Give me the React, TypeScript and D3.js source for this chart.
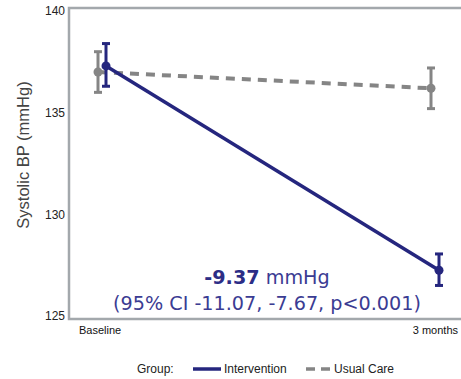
import React, { useEffect, useRef } from 'react';
import * as d3 from 'd3';

// time points
const timepoints = ['Baseline', '3 months'];
// group means and 95% CIs
const interventionMean = [137.3, 127.25];
const interventionLow = [136.3, 126.5];
const interventionHigh = [138.4, 128.05];
const usualMean = [137.0, 136.2];
const usualLow = [136.0, 135.2];
const usualHigh = [138.0, 137.2];
const yTicks = [125, 130, 135, 140];

const App = () => {
  const ref = useRef<SVGSVGElement>(null);

  useEffect(() => {
    const svg = d3.select(ref.current);
    svg.selectAll('*').remove();

    const width = 461;
    const left = 69;
    const top = 8;
    const bottom = 319;

    const x = d3.scalePoint().domain(timepoints).range([102, 435]);
    const y = d3.scaleLinear().domain([124.85, 140.15]).range([bottom, top]);

    const navy = '#25267e';
    const grey = '#858585';
    const frame = '#a3a8ac';

    // frame
    svg.append('path')
      .attr('d', `M${width + 5},${top}H${left}V${bottom}H${width + 5}`)
      .attr('fill', 'none')
      .attr('stroke', frame)
      .attr('stroke-width', 2.5);

    // y ticks
    const yAxis = svg.append('g');
    yTicks.forEach((t) => {
      yAxis.append('text')
        .attr('x', left - 4)
        .attr('y', y(t))
        .attr('dy', '0.35em')
        .attr('text-anchor', 'end')
        .attr('font-family', 'Liberation Sans, Arial, sans-serif')
        .attr('font-size', 12)
        .attr('fill', '#222')
        .text(t);
    });

    svg.append('text')
      .attr('transform', 'translate(29, 155) rotate(-90)')
      .attr('text-anchor', 'middle')
      .attr('font-family', 'Liberation Sans, Arial, sans-serif')
      .attr('font-size', 16.5)
      .attr('fill', '#444')
      .text('Systolic BP (mmHg)');

    // x labels
    svg.append('text')
      .attr('x', 79)
      .attr('y', 334)
      .attr('font-family', 'Liberation Sans, Arial, sans-serif')
      .attr('font-size', 11)
      .attr('fill', '#111')
      .text(timepoints[0]);
    svg.append('text')
      .attr('x', 458)
      .attr('y', 334)
      .attr('text-anchor', 'end')
      .attr('font-family', 'Liberation Sans, Arial, sans-serif')
      .attr('font-size', 11)
      .attr('fill', '#111')
      .text(timepoints[1]);

    const drawSeries = (mean: number[], lo: number[], hi: number[], color: string, offset: number, dashed: boolean) => {
      const g = svg.append('g');
      const line = d3.line<number>()
        .x((_, i) => (x(timepoints[i]) as number) + offset)
        .y((d) => y(d));
      g.append('path')
        .datum(mean)
        .attr('d', line)
        .attr('fill', 'none')
        .attr('stroke', color)
        .attr('stroke-width', dashed ? 4 : 3.5)
        .attr('stroke-dasharray', dashed ? '9,7' : null);
      mean.forEach((m, i) => {
        const cx = (x(timepoints[i]) as number) + offset;
        g.append('line')
          .attr('x1', cx).attr('x2', cx)
          .attr('y1', y(lo[i])).attr('y2', y(hi[i]))
          .attr('stroke', color).attr('stroke-width', 3);
        [lo[i], hi[i]].forEach((v) => {
          g.append('line')
            .attr('x1', cx - 4).attr('x2', cx + 4)
            .attr('y1', y(v)).attr('y2', y(v))
            .attr('stroke', color).attr('stroke-width', 3);
        });
        g.append('circle')
          .attr('cx', cx).attr('cy', y(m)).attr('r', 4.5)
          .attr('fill', color);
      });
    };

    drawSeries(usualMean, usualLow, usualHigh, grey, -4, true);
    drawSeries(interventionMean, interventionLow, interventionHigh, navy, 4, false);

    // annotation
    const ann = svg.append('text')
      .attr('x', 267)
      .attr('y', 284)
      .attr('text-anchor', 'middle')
      .attr('font-family', 'DejaVu Sans, Verdana, sans-serif')
      .attr('font-size', 19.2)
      .attr('fill', '#3b3c93');
    ann.append('tspan').attr('font-weight', 'bold').attr('fill', '#2c2d86').text('-9.37');
    ann.append('tspan').text(' mmHg');
    svg.append('text')
      .attr('x', 267)
      .attr('y', 310)
      .attr('text-anchor', 'middle')
      .attr('font-family', 'DejaVu Sans, Verdana, sans-serif')
      .attr('font-size', 19.2)
      .attr('fill', '#3b3c93')
      .text('(95% CI -11.07, -7.67, p<0.001)');

    // legend
    const lg = svg.append('g').attr('font-family', 'Liberation Sans, Arial, sans-serif').attr('font-size', 12).attr('fill', '#222');
    lg.append('text').attr('x', 137).attr('y', 373).text('Group:');
    lg.append('line').attr('x1', 193).attr('x2', 221).attr('y1', 369).attr('y2', 369)
      .attr('stroke', navy).attr('stroke-width', 3.5);
    lg.append('text').attr('x', 224).attr('y', 373).text('Intervention');
    lg.append('line').attr('x1', 306).attr('x2', 330).attr('y1', 369).attr('y2', 369)
      .attr('stroke', grey).attr('stroke-width', 3.5).attr('stroke-dasharray', '9,6');
    lg.append('text').attr('x', 334).attr('y', 373).text('Usual Care');
  }, []);

  return <svg ref={ref} width={461} height={379} style={{ position: 'absolute', left: 0, top: 0 }} />;
};

export default App;
